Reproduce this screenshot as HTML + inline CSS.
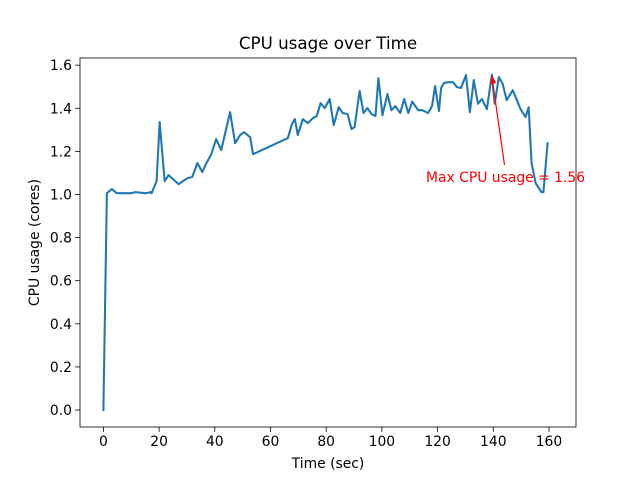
<!DOCTYPE html>
<html><head><meta charset="utf-8">
<style>
html,body{margin:0;padding:0;background:#fff;}
svg{display:block;font-family:"DejaVu Sans","Liberation Sans",sans-serif;}
</style></head>
<body>
<svg id="chart" width="640" height="480" viewBox="0 0 640 480" xmlns="http://www.w3.org/2000/svg">
<rect x="0" y="0" width="640" height="480" fill="#fff"/>
<text x="328" y="49" font-size="16.7" text-anchor="middle" fill="#000">CPU usage over Time</text>
<text x="328" y="468" font-size="13.9" text-anchor="middle" fill="#000">Time (sec)</text>
<text transform="translate(39,242.5) rotate(-90)" font-size="13.9" text-anchor="middle" fill="#000">CPU usage (cores)</text>
<g id="plot"></g>
</svg>
<script>
const times = [0,1.25,3.0,4.8,10.2,11.25,15.2,17.0,17.3,19.1,20.2,22.0,23.4,27.0,30.2,31.9,33.75,35.5,37.0,38.75,40.5,42.3,45.5,47.3,49.1,50.5,52.7,53.75,66.25,67.7,68.75,69.8,71.6,73.4,75.2,76.6,78.0,79.5,81.25,82.7,84.5,85.9,87.7,89.1,90.2,92.0,93.4,94.8,96.25,97.7,98.75,100.2,102.0,103.4,104.8,106.6,108.0,109.5,110.9,113.0,114.5,116.6,118.0,119.1,120.5,121.25,122.3,123.75,125.5,127.0,128.4,130.2,131.6,133.0,134.5,135.9,137.7,139.5,140.5,142.0,143.4,144.8,147.0,149.8,151.6,152.7,153.75,155.2,157.3,158.0,159.5,161.5];
const cpu = [0,1.006,1.025,1.006,1.006,1.011,1.006,1.011,1.006,1.062,1.336,1.062,1.09,1.048,1.076,1.081,1.146,1.104,1.146,1.187,1.257,1.206,1.382,1.238,1.276,1.289,1.266,1.187,1.262,1.327,1.35,1.276,1.35,1.331,1.354,1.364,1.424,1.401,1.443,1.322,1.405,1.378,1.373,1.303,1.313,1.48,1.378,1.401,1.373,1.364,1.54,1.368,1.466,1.391,1.41,1.378,1.443,1.378,1.431,1.391,1.391,1.378,1.41,1.503,1.387,1.494,1.517,1.521,1.521,1.498,1.494,1.554,1.382,1.531,1.421,1.443,1.396,1.556,1.421,1.545,1.512,1.438,1.484,1.396,1.359,1.405,1.146,1.053,1.011,1.011,1.238];
const xTicks = [0,20,40,60,80,100,120,140,160];
const yTicks = [0.0,0.2,0.4,0.6,0.8,1.0,1.2,1.4,1.6];
const yTickLabels = ["0.0","0.2","0.4","0.6","0.8","1.0","1.2","1.4","1.6"];
const annotationText = "Max CPU usage = 1.56";

const L=80,R=576,T=58,B=427;
const xmin=-8.4,xmax=169.7,ymin=-0.0787,ymax=1.6333;
const sx=v=>L+(v-xmin)/(xmax-xmin)*(R-L);
const sy=v=>B-(v-ymin)/(ymax-ymin)*(B-T);
const NS="http://www.w3.org/2000/svg";
const g=document.getElementById('plot');
function mk(tag,attrs,parent){const e=document.createElementNS(NS,tag);for(const k in attrs)e.setAttribute(k,attrs[k]);(parent||g).appendChild(e);return e;}

let d=times.map((t,i)=>(i?'L':'M')+sx(t).toFixed(2)+' '+sy(cpu[i]).toFixed(2)).join(' ');
const line=mk('path',{d:d,fill:'none',stroke:'#1f77b4','stroke-width':2.08,'stroke-linejoin':'round','stroke-linecap':'square'});



let mi=0;cpu.forEach((v,i)=>{if(v>cpu[mi])mi=i;});
const tipX=sx(times[mi]),tipY=sy(cpu[mi]);
const tailX=504.5,tailY=165;
const arr=mk('line',{x1:tailX,y1:tailY,x2:tipX,y2:tipY+2,stroke:'red','stroke-width':1.2});


const ang=Math.atan2(tipY-tailY,tipX-tailX);
const hl=9,hw=3;
const bx=tipX-hl*Math.cos(ang),by=tipY-hl*Math.sin(ang);
const px=-Math.sin(ang)*hw,py=Math.cos(ang)*hw;
const head=mk('polygon',{points:`${tipX},${tipY} ${bx+px},${by+py} ${bx-px},${by-py}`,fill:'red'});


const at=mk('text',{x:426,y:182,'font-size':13.9,fill:'red'});
at.textContent=annotationText;



const frame=mk('rect',{x:L,y:T,width:R-L,height:B-T,fill:'none',stroke:'#000','stroke-width':0.8});



xTicks.forEach(v=>{
  const x=sx(v);
  const tk=mk('line',{x1:x,y1:B,x2:x,y2:B+4.9,stroke:'#000','stroke-width':0.8});
  
  
  const tl=mk('text',{x:x,y:B+19,'font-size':13.9,'text-anchor':'middle',fill:'#000'});
  tl.textContent=String(v);
  
  
});
yTicks.forEach((v,i)=>{
  const y=sy(v);
  const tk=mk('line',{x1:L-4.9,y1:y,x2:L,y2:y,stroke:'#000','stroke-width':0.8});
  
  
  const tl=mk('text',{x:L-8,y:y+5,'font-size':13.9,'text-anchor':'end',fill:'#000'});
  tl.textContent=yTickLabels[i];
  
  
});
</script>
</body></html>
